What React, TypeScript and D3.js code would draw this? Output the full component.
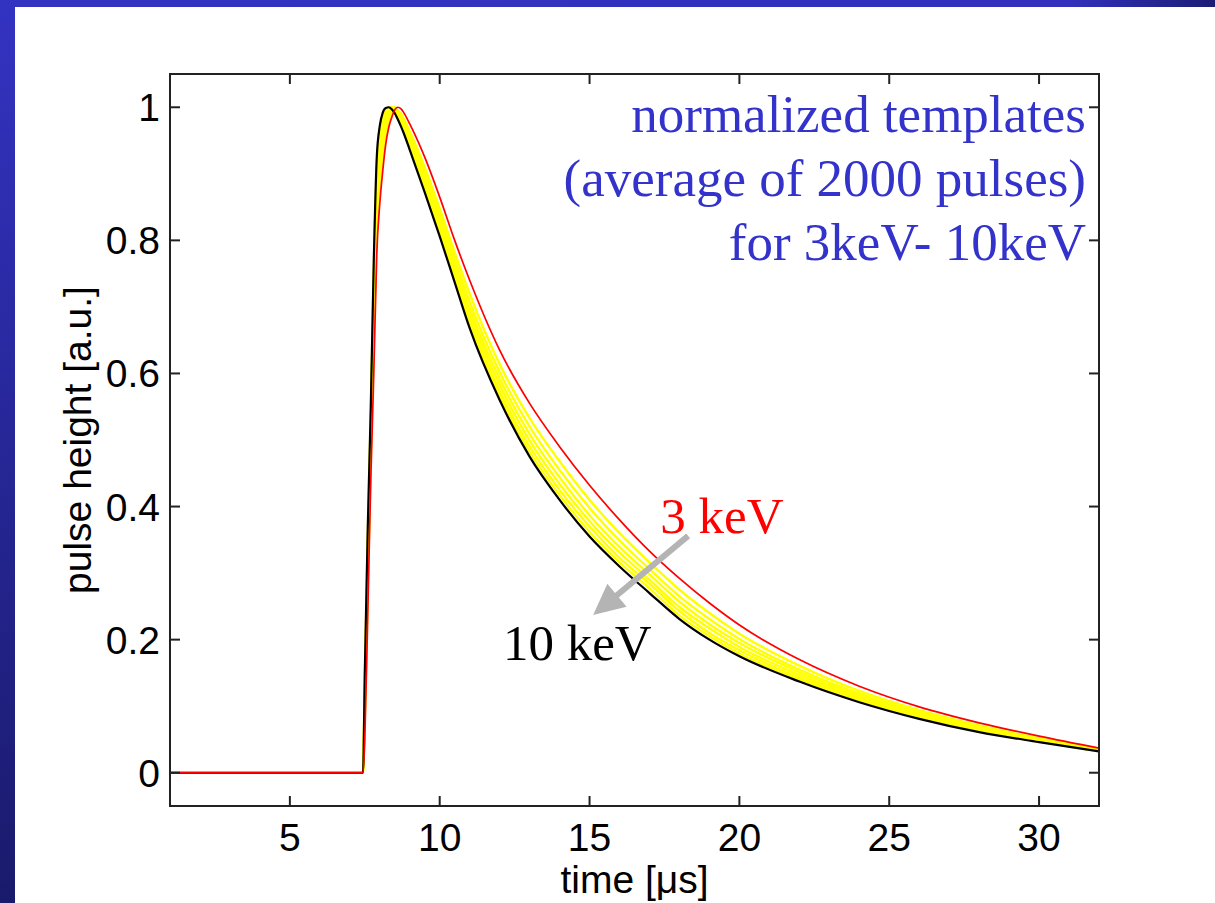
import React from "react";
import * as d3 from "d3";

const times = [1, 7.44, 7.5, 7.6, 7.7, 7.8, 7.9, 8.0, 8.1, 8.2, 8.3, 8.4, 8.5, 8.6, 8.7, 8.8, 9.0, 9.5, 10, 10.5, 11, 12, 13, 14, 15, 16, 17, 18, 19, 20, 22, 24, 26, 28, 30, 32];

const kev3 = [0, 0, 0.05, 0.24, 0.44, 0.6, 0.78, 0.855, 0.905, 0.945, 0.97, 0.985, 0.996, 1.0, 0.998, 0.992, 0.975, 0.925, 0.865, 0.8, 0.74, 0.635, 0.555, 0.49, 0.432, 0.38, 0.333, 0.292, 0.255, 0.222, 0.17, 0.13, 0.099, 0.075, 0.055, 0.037];
const kev4 = [0, 0, 0.078, 0.276, 0.471, 0.648, 0.821, 0.888, 0.929, 0.96, 0.978, 0.988, 1.0, 0.995, 0.991, 0.983, 0.964, 0.91, 0.848, 0.782, 0.72, 0.614, 0.533, 0.468, 0.41, 0.36, 0.316, 0.275, 0.24, 0.209, 0.161, 0.123, 0.094, 0.071, 0.052, 0.036];
const kev5 = [0, 0, 0.094, 0.297, 0.488, 0.675, 0.844, 0.906, 0.943, 0.969, 0.983, 0.99, 1.0, 0.992, 0.987, 0.978, 0.958, 0.902, 0.839, 0.772, 0.708, 0.602, 0.52, 0.455, 0.398, 0.349, 0.306, 0.265, 0.231, 0.201, 0.155, 0.119, 0.091, 0.069, 0.051, 0.035];
const kev6 = [0, 0, 0.108, 0.315, 0.504, 0.699, 0.864, 0.923, 0.955, 0.976, 0.987, 0.999, 0.999, 0.99, 0.983, 0.974, 0.952, 0.894, 0.831, 0.763, 0.698, 0.592, 0.509, 0.444, 0.387, 0.339, 0.298, 0.257, 0.223, 0.195, 0.151, 0.116, 0.089, 0.067, 0.05, 0.034];
const kev7 = [0, 0, 0.12, 0.331, 0.517, 0.719, 0.882, 0.937, 0.966, 0.983, 0.991, 1.0, 0.993, 0.987, 0.98, 0.97, 0.948, 0.888, 0.824, 0.756, 0.69, 0.583, 0.499, 0.434, 0.378, 0.331, 0.29, 0.249, 0.217, 0.189, 0.147, 0.113, 0.086, 0.065, 0.049, 0.034];
const kev8 = [0, 0, 0.131, 0.345, 0.529, 0.738, 0.897, 0.95, 0.975, 0.989, 0.994, 1.0, 0.992, 0.985, 0.977, 0.967, 0.943, 0.882, 0.817, 0.749, 0.682, 0.574, 0.49, 0.425, 0.37, 0.323, 0.284, 0.243, 0.21, 0.184, 0.143, 0.111, 0.084, 0.064, 0.048, 0.033];
const kev9 = [0, 0, 0.141, 0.358, 0.54, 0.755, 0.912, 0.961, 0.984, 0.994, 1.0, 0.996, 0.991, 0.984, 0.974, 0.964, 0.94, 0.877, 0.811, 0.743, 0.674, 0.567, 0.482, 0.417, 0.362, 0.316, 0.277, 0.236, 0.205, 0.179, 0.14, 0.108, 0.083, 0.062, 0.047, 0.032];
const kev10 = [0, 0, 0.15, 0.37, 0.55, 0.77, 0.925, 0.972, 0.992, 0.999, 1.0, 0.997, 0.991, 0.982, 0.972, 0.961, 0.936, 0.872, 0.806, 0.737, 0.668, 0.56, 0.475, 0.41, 0.355, 0.31, 0.27, 0.231, 0.2, 0.175, 0.137, 0.106, 0.081, 0.061, 0.046, 0.032];

const yellowSeries = [kev4, kev5, kev6, kev7, kev8, kev9];

const xTicks = [5, 10, 15, 20, 25, 30];
const yTicks = [0, 0.2, 0.4, 0.6, 0.8, 1];
const yTickLabels = ["0", "0.2", "0.4", "0.6", "0.8", "1"];

const noteLines = ["normalized templates", "(average of 2000 pulses)", "for 3keV- 10keV"];

export default function App() {
  const W = 1215, H = 903;
  const L = 170, R = 1099, T = 74, B = 806;
  const x = d3.scaleLinear().domain([1, 32]).range([L, R]);
  const y = d3.scaleLinear().domain([-0.05, 1.05]).range([B, T]);
  const line = (vals: number[]) =>
    d3.line<number>().x((_, i) => x(times[i])).y((d) => y(d)).curve(d3.curveMonotoneX)(vals) || "";

  const sans = "'Liberation Sans', Arial, sans-serif";
  const serif = "'Liberation Serif', 'Times New Roman', serif";
  const tick = 10;

  // arrow (data coords)
  const a0 = [x(18.29), y(0.356)];
  const tip = [x(15.12), y(0.237)];
  const dx = tip[0] - a0[0], dy = tip[1] - a0[1];
  const len = Math.hypot(dx, dy);
  const ux = dx / len, uy = dy / len;
  const hl = 31, hw = 15;
  const bx = tip[0] - ux * hl, by = tip[1] - uy * hl;
  const head = `${tip[0]},${tip[1]} ${bx + uy * hw},${by - ux * hw} ${bx - uy * hw},${by + ux * hw}`;

  return (
    <svg width={W} height={H} style={{ position: "absolute", left: 0, top: 0, display: "block" }}>
      <defs>
        <linearGradient id="topg" x1="0" x2="1" y1="0" y2="0">
          <stop offset="0" stopColor="#3333c2" />
          <stop offset="0.88" stopColor="#3131bd" />
          <stop offset="1" stopColor="#1c1c75" />
        </linearGradient>
        <linearGradient id="leftg" x1="0" x2="0" y1="0" y2="1">
          <stop offset="0" stopColor="#3333c2" />
          <stop offset="1" stopColor="#1a1a6c" />
        </linearGradient>
      </defs>
      <rect x={0} y={0} width={W} height={H} fill="#ffffff" />
      <rect x={0} y={0} width={W} height={7} fill="url(#topg)" />
      <rect x={0} y={0} width={15} height={H} fill="url(#leftg)" />

      {/* curves */}
      <g fill="none" strokeLinejoin="round">
        {yellowSeries.map((s, i) => (
          <path key={i} d={line(s)} stroke="#ffff00" strokeWidth={2.4} />
        ))}
        <path d={line(kev10)} stroke="#000000" strokeWidth={2.2} />
        <path d={line(kev3)} stroke="#ff0000" strokeWidth={1.7} />
      </g>

      {/* frame */}
      <rect x={L} y={T} width={R - L} height={B - T} fill="none" stroke="#222" strokeWidth={2} />
      <g stroke="#222" strokeWidth={2}>
        {xTicks.map((t) => (
          <g key={t}>
            <line x1={x(t)} x2={x(t)} y1={B} y2={B - tick} />
            <line x1={x(t)} x2={x(t)} y1={T} y2={T + tick} />
          </g>
        ))}
        {yTicks.map((t) => (
          <g key={t}>
            <line x1={L} x2={L + tick} y1={y(t)} y2={y(t)} />
            <line x1={R} x2={R - tick} y1={y(t)} y2={y(t)} />
          </g>
        ))}
      </g>
      <g fontFamily={sans} fontSize={39} fill="#000">
        {xTicks.map((t) => (
          <text key={t} x={x(t)} y={851} textAnchor="middle">{t}</text>
        ))}
        {yTicks.map((t, i) => (
          <text key={t} x={160} y={y(t)} dy="0.36em" textAnchor="end">{yTickLabels[i]}</text>
        ))}
        <text x={(L + R) / 2} y={893} textAnchor="middle">time [μs]</text>
        <text transform={`translate(91,${(T + B) / 2}) rotate(-90)`} textAnchor="middle">pulse height [a.u.]</text>
      </g>

      {/* notes */}
      <g fontFamily={serif} fontSize={53} fill="#3333cc" textAnchor="end">
        {noteLines.map((s, i) => (
          <text key={i} x={1086} y={132 + i * 64}>{s}</text>
        ))}
      </g>

      {/* arrow */}
      <line x1={a0[0]} y1={a0[1]} x2={bx + ux * 2} y2={by + uy * 2} stroke="#b4b4b4" strokeWidth={6} />
      <polygon points={head} fill="#b4b4b4" />
      <text x={x(17.36)} y={y(0.36)} fontFamily={serif} fontSize={51} fill="#ff0000">3 keV</text>
      <text x={x(12.11)} y={y(0.169)} fontFamily={serif} fontSize={51} fill="#000">10 keV</text>
    </svg>
  );
}
